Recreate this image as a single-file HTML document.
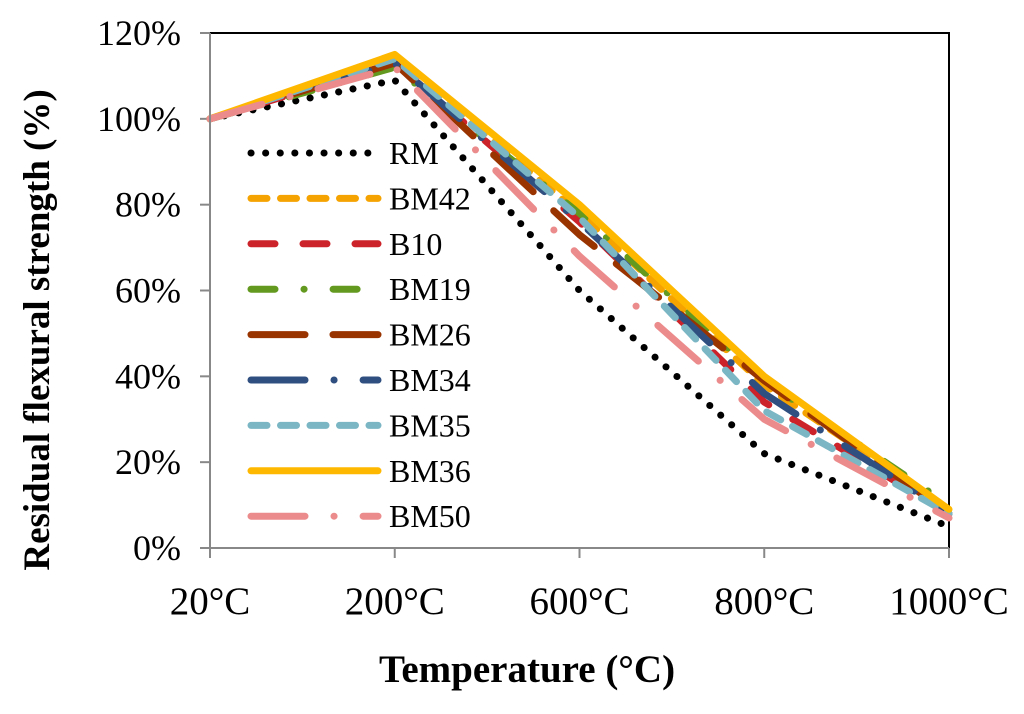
<!DOCTYPE html>
<html><head><meta charset="utf-8"><style>
body{margin:0;background:#fff;}
svg text{font-family:"Liberation Serif",serif;fill:#000;}
</style></head><body>
<svg id="chart" width="1024" height="709" xmlns="http://www.w3.org/2000/svg">
<rect x="210" y="33" width="739" height="515" fill="none" stroke="#000" stroke-width="2"/>
<g id="grid"></g>
<g id="series"></g>
<g id="legend"></g>
<line x1="210" y1="33" x2="210" y2="548" stroke="#888" stroke-width="2"/>
<line x1="210" y1="548" x2="949" y2="548" stroke="#888" stroke-width="2"/>
<text x="527" y="682" font-size="39" font-weight="bold" text-anchor="middle">Temperature (°C)</text>
<text transform="translate(49,330) rotate(-90)" font-size="37" font-weight="bold" text-anchor="middle">Residual flexural strength (%)</text>
</svg>
<script>
const categories=["20°C","200°C","600°C","800°C","1000°C"];
const yTicks=[0,20,40,60,80,100,120];
const seriesNames=["RM","BM42","B10","BM19","BM26","BM34","BM35","BM36","BM50"];
const RM=[100,109,60,22,5];
const BM42=[100,114,78,38,9];
const B10=[100,113,76,34,8];
const BM19=[100,112,78,39,10];
const BM26=[100,113,73,39,8];
const BM34=[100,113,76,36,8];
const BM35=[100,114,77,32,8];
const BM36=[100,115,80,40,9];
const BM50=[100,112,68,30,7];
const values=[RM,BM42,B10,BM19,BM26,BM34,BM35,BM36,BM50];
const colors=["#000","#F5A300","#CC2229","#62991E","#993300","#2F4F80","#7AB6C4","#FFB800","#EC8B8B"];
const dashes=["0.1 14.5","16 13.5","24 28","24 29 0.1 29","54 28","54 29 0.1 29","16 13.5","","54 29 0.1 29"];
const NS="http://www.w3.org/2000/svg";
const x0=210,x1=949,y0=548,y1=33;
const xs=i=>x0+i*(x1-x0)/(categories.length-1);
const ys=v=>y0-v*(y0-y1)/120;
const grid=document.getElementById('grid');
yTicks.forEach(t=>{
 const l=document.createElementNS(NS,'line');
 
 
 l.setAttribute('x1',200);l.setAttribute('x2',210);l.setAttribute('y1',ys(t));l.setAttribute('y2',ys(t));
 l.setAttribute('stroke','#888');l.setAttribute('stroke-width',2);grid.appendChild(l);
 const tx=document.createElementNS(NS,'text');
 
 
 tx.setAttribute('x',181);tx.setAttribute('y',ys(t)+12);tx.setAttribute('font-size',36);tx.setAttribute('text-anchor','end');
 tx.textContent=t+'%';grid.appendChild(tx);
});
categories.forEach((c,i)=>{
 const l=document.createElementNS(NS,'line');
 
 
 l.setAttribute('x1',xs(i));l.setAttribute('x2',xs(i));l.setAttribute('y1',548);l.setAttribute('y2',558);
 l.setAttribute('stroke','#888');l.setAttribute('stroke-width',2);grid.appendChild(l);
 const tx=document.createElementNS(NS,'text');
 
 
 tx.setAttribute('x',xs(i));tx.setAttribute('y',614);tx.setAttribute('font-size',39);tx.setAttribute('text-anchor','middle');
 tx.textContent=c;grid.appendChild(tx);
});
const sg=document.getElementById('series');
const lg=document.getElementById('legend');
values.forEach((vals,k)=>{
 const p=document.createElementNS(NS,'polyline');
 
 
 p.setAttribute('points',vals.map((v,i)=>xs(i)+','+ys(v)).join(' '));
 p.setAttribute('fill','none');p.setAttribute('stroke',colors[k]);p.setAttribute('stroke-width',7);
 p.setAttribute('stroke-linecap','round');p.setAttribute('stroke-linejoin','round');
 if(dashes[k])p.setAttribute('stroke-dasharray',dashes[k]);
 sg.appendChild(p);
 const ly=153+k*45.4;
 const l=document.createElementNS(NS,'line');
 
 
 l.setAttribute('x1',251);l.setAttribute('x2',378);l.setAttribute('y1',ly);l.setAttribute('y2',ly);
 l.setAttribute('stroke',colors[k]);l.setAttribute('stroke-width',7);l.setAttribute('stroke-linecap','round');
 if(dashes[k])l.setAttribute('stroke-dasharray',dashes[k]);
 lg.appendChild(l);
 const tx=document.createElementNS(NS,'text');
 
 
 tx.setAttribute('x',389);tx.setAttribute('y',ly+11);tx.setAttribute('font-size',32);
 tx.textContent=seriesNames[k];lg.appendChild(tx);
});
</script>
</body></html>
